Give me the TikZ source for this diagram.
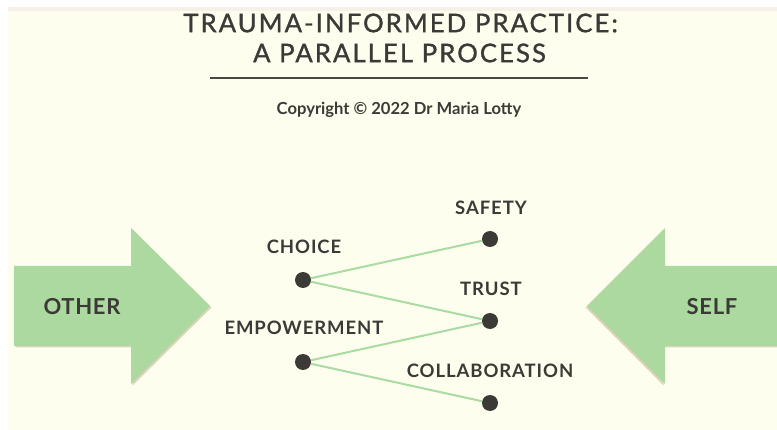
\documentclass[tikz,border=0pt]{standalone}
\usepackage{fontspec}
\setmainfont{Lato}
\usetikzlibrary{shadows}
\definecolor{cream}{HTML}{FEFEEF}
\definecolor{strip}{HTML}{F6F0E8}
\definecolor{arrowgreen}{HTML}{ACD9A0}
\definecolor{linegreen}{HTML}{A9DCA0}
\definecolor{ink}{HTML}{3B3A36}
\definecolor{rulecol}{HTML}{4A4840}
\begin{document}
\begin{tikzpicture}[x=1pt,y=-1pt,
  titletext/.style={text=ink,font=\fontsize{25.7}{30}\selectfont\addfontfeatures{LetterSpace=8,FakeBold=1.2}},
  lbl/.style={text=ink,inner sep=0pt,font=\bfseries\fontsize{18.5}{21}\selectfont\addfontfeatures{LetterSpace=5}},
  dotnode/.style={circle,fill=ink,minimum size=16pt,inner sep=0pt},
  link/.style={draw=linegreen,line width=2pt},
  bigarrow/.style={fill=arrowgreen,draw=none},
  arrowtext/.style={text=ink,font=\bfseries\fontsize{22}{26}\selectfont\addfontfeatures{LetterSpace=3}}
]
\useasboundingbox (0,0) rectangle (777,430);
\fill[white] (0,0) rectangle (777,430);
\fill[cream] (8,11) rectangle (777,430);
\fill[strip] (8,7) rectangle (777,11);
% title
\node[titletext] (t1) at (400.5,23) {TRAUMA-INFORMED PRACTICE:};
\node[titletext] (t2) at (399.5,53) {A PARALLEL PROCESS};
\coordinate (rl) at (210,78);
\coordinate (rr) at (588,78);
\draw[rulecol,line width=2pt] (rl) -- (rr);
\node[text=ink,font=\bfseries\fontsize{16.6}{19}\selectfont] (copy) at (399,110) {Copyright © 2022 Dr Maria Lotty};
% arrows
\path[bigarrow,drop shadow={shadow xshift=1.5pt,shadow yshift=-1.5pt,fill=brown!55!gray,opacity=0.35}]
  (14,266) -- (131,266) -- (131,228) -- (210,306) -- (131,384) -- (131,346) -- (14,346) -- cycle;
\node[arrowtext] (other) at (82,307) {OTHER};
\path[bigarrow,drop shadow={shadow xshift=-1.5pt,shadow yshift=-1.5pt,fill=brown!55!gray,opacity=0.35}]
  (790,266) -- (665,266) -- (665,228) -- (587,306) -- (665,384) -- (665,346) -- (790,346) -- cycle;
\node[arrowtext] (self) at (712,307) {SELF};
% dots
\node[dotnode] (choice) at (303,280) {};
\node[dotnode] (empow) at (303,362) {};
\node[dotnode] (safety) at (490,239) {};
\node[dotnode] (trust) at (490,321) {};
\node[dotnode] (collab) at (490,403) {};
\draw[link] (choice) -- (safety);
\draw[link] (choice) -- (trust);
\draw[link] (empow) -- (trust);
\draw[link] (empow) -- (collab);
% labels
\node[lbl] (lchoice) at (304,247) {CHOICE};
\node[lbl] (lempow) at (304,328) {EMPOWERMENT};
\node[lbl] (lsafety) at (491,208) {SAFETY};
\node[lbl] (ltrust) at (491,289) {TRUST};
\node[lbl] (lcollab) at (490,371) {COLLABORATION};
\end{tikzpicture}
\end{document}
